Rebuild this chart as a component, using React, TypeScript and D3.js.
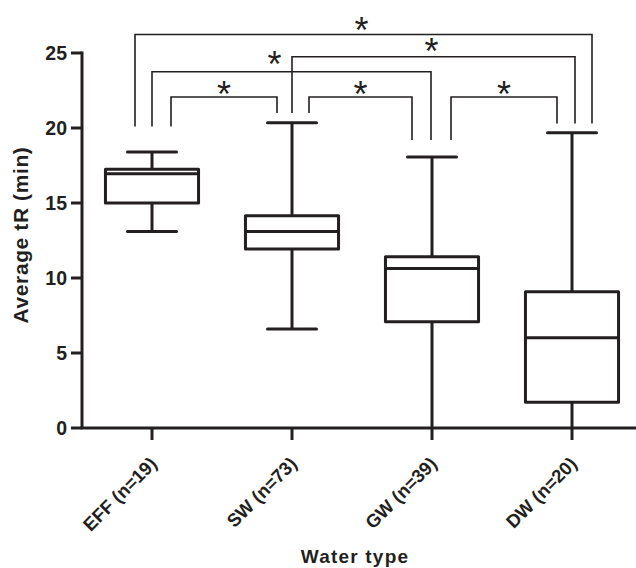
import React from "react";
import * as d3 from "d3";

const categories = ["EFF (n=19)", "SW (n=73)", "GW (n=39)", "DW (n=20)"];
const whiskerLow = [13.1, 6.6, 0, 0];
const q1 = [15.0, 11.93, 7.09, 1.71];
const median = [16.95, 13.1, 10.64, 6.02];
const q3 = [17.25, 14.15, 11.42, 9.09];
const whiskerHigh = [18.4, 20.35, 18.07, 19.69];
const yTicks = [0, 5, 10, 15, 20, 25];

// significance comparisons (category index pairs), bracket level in y units, label
const compFrom = [0, 1, 2, 0, 1, 0];
const compTo = [1, 2, 3, 2, 3, 3];
const compLevel = [22.07, 22.07, 22.07, 23.75, 24.75, 26.23];
const compLabel = ["*", "*", "*", "*", "*", "*"];
const legBase = [20.1, 21.0, 19.2, 20.3];

const yTitle = "Average tR (min)";
const xTitle = "Water type";

// layout-only offsets (px) for bracket legs and stars
const legOffL = [19, 17, 19, 0, 0, -17];
const legOffR = [-15, -20, -15, -1, 3, 20];
const starDx = [0, 0, 0, -17, -2, -2];
const starDy = [11, 11, 11, 15, 13, 12.5];

const W = 636;
const H = 568;
const ink = "#231f20";
const font = "Liberation Sans, Arial, Helvetica, sans-serif";

export default function App() {
  const x = d3.scaleBand<string>().domain(categories).range([82, 642]).padding(0);
  const y = d3.scaleLinear().domain([0, 25]).range([428, 53]);
  const bw = x.bandwidth();
  const boxW = bw * 0.665;
  const capW = bw * 0.35;
  const cx = (i: number) => (x(categories[i]) as number) + bw / 2;

  return (
    <svg
      width={W}
      height={H}
      style={{ position: "absolute", left: 0, top: 0, background: "#fff" }}
      fontFamily={font}
    >
      {/* boxes */}
      {categories.map((c, i) => {
        const xc = cx(i);
        return (
          <g key={c} stroke={ink} strokeWidth={3} fill="none" strokeLinecap="butt">
            <line x1={xc} x2={xc} y1={y(whiskerHigh[i])} y2={y(q3[i])} />
            <line x1={xc} x2={xc} y1={y(q1[i])} y2={y(whiskerLow[i])} />
            <line x1={xc - capW / 2} x2={xc + capW / 2} y1={y(whiskerHigh[i])} y2={y(whiskerHigh[i])} strokeLinecap="round" />
            {whiskerLow[i] > 0 && (
              <line x1={xc - capW / 2} x2={xc + capW / 2} y1={y(whiskerLow[i])} y2={y(whiskerLow[i])} strokeLinecap="round" />
            )}
            <rect x={xc - boxW / 2} y={y(q3[i])} width={boxW} height={y(q1[i]) - y(q3[i])} fill="#fff" strokeLinejoin="round" />
            <line x1={xc - boxW / 2} x2={xc + boxW / 2} y1={y(median[i])} y2={y(median[i])} />
          </g>
        );
      })}

      {/* axes */}
      <g stroke={ink} strokeWidth={3}>
        <line x1={82} x2={82} y1={y(25) - 1.5} y2={y(0)} />
        <line x1={80.5} x2={W} y1={y(0)} y2={y(0)} />
        {yTicks.map((t) => (
          <line key={t} x1={71} x2={82} y1={y(t)} y2={y(t)} />
        ))}
        {categories.map((c, i) => (
          <line key={c} x1={cx(i)} x2={cx(i)} y1={y(0)} y2={y(0) + 12} />
        ))}
      </g>
      {yTicks.map((t) => (
        <text key={t} x={67} y={y(t)} dy="0.36em" textAnchor="end" fontSize={19.5} fontWeight="bold" fill={ink}>
          {t}
        </text>
      ))}
      {categories.map((c, i) => (
        <text
          key={c}
          transform={`translate(${cx(i) + 6},${y(0) + 37}) rotate(-45)`}
          textAnchor="end"
          fontSize={18.5}
          fontWeight="bold"
          fill={ink}
        >
          {c}
        </text>
      ))}
      <text x={355} y={563} textAnchor="middle" fontSize={19} fontWeight="bold" letterSpacing={1.2} fill={ink}>
        {xTitle}
      </text>
      <text
        transform={`translate(28,235) rotate(-90)`}
        textAnchor="middle"
        fontSize={21}
        fontWeight="bold"
        letterSpacing={0.6}
        fill={ink}
      >
        {yTitle}
      </text>

      {/* significance brackets */}
      {compFrom.map((f, k) => {
        const t = compTo[k];
        const xl = cx(f) + legOffL[k];
        const xr = cx(t) + legOffR[k];
        const yl = y(compLevel[k]);
        const d = `M${xl},${y(legBase[f])}V${yl}H${xr}V${y(legBase[t])}`;
        return (
          <g key={k}>
            <path d={d} fill="none" stroke={ink} strokeWidth={1.6} />
            <text
              x={(xl + xr) / 2 + starDx[k]}
              y={yl - starDy[k] + 0.575 * 36}
              textAnchor="middle"
              fontSize={36}
              fill={ink}
            >
              {compLabel[k]}
            </text>
          </g>
        );
      })}
    </svg>
  );
}
